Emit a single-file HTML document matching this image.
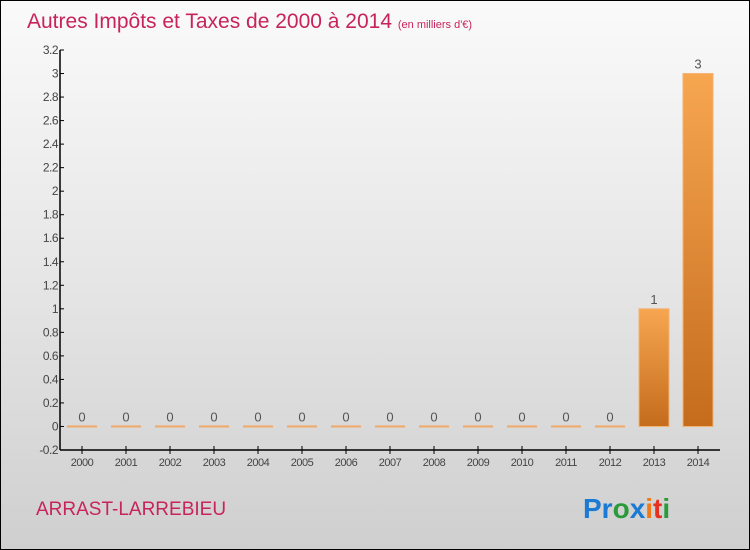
<!DOCTYPE html>
<html><head><meta charset="utf-8"><style>
body{margin:0}
#c{position:relative;width:748px;height:548px;border:1px solid #000;background:linear-gradient(#fafafa,#e6e6e6 50%,#cfcfcf);font-family:"Liberation Sans",sans-serif;overflow:hidden}
</style></head><body>
<div id="c">
<svg width="748" height="548">
<defs><linearGradient id="g" x1="0" y1="0" x2="0" y2="1"><stop offset="0" stop-color="#f7a650"/><stop offset="1" stop-color="#c46c1c"/></linearGradient></defs>
<text x="26" y="27" font-size="21" fill="#c8235a">Autres Impôts et Taxes de 2000 à 2014 <tspan font-size="11">(en milliers d'€)</tspan></text>
<g id="ax"></g>
<text x="35" y="514" font-size="19" fill="#c8235a">ARRAST-LARREBIEU</text>
<text x="582" y="517" font-size="28" font-weight="bold"><tspan fill="#1a7ad4">Pr</tspan><tspan fill="#2a9a3a">o</tspan><tspan fill="#1a7ad4">x</tspan><tspan fill="#f07818">i</tspan><tspan fill="#e83020">t</tspan><tspan fill="#2a9a3a">i</tspan></text>
</svg></div>
<script>
const categories=["2000","2001","2002","2003","2004","2005","2006","2007","2008","2009","2010","2011","2012","2013","2014"];
const values=[0,0,0,0,0,0,0,0,0,0,0,0,0,1,3];
const yTicks=[-0.2,0,0.2,0.4,0.6,0.8,1,1.2,1.4,1.6,1.8,2,2.2,2.4,2.6,2.8,3,3.2];
const ns="http://www.w3.org/2000/svg",g=document.getElementById("ax");
const y=v=>449-(v+0.2)/3.4*400, x=i=>81+i*44;
function mk(t,a,txt){const e=document.createElementNS(ns,t);for(const k in a)e.setAttribute(k,a[k]);if(txt!=null)e.textContent=txt;g.appendChild(e);return e;}
let e=mk("line",{x1:59,y1:49,x2:59,y2:449,stroke:"#000","stroke-width":1.5});


e=mk("line",{x1:59,y1:449,x2:719,y2:449,stroke:"#000","stroke-width":1.5});


yTicks.forEach(t=>{
 mk("line",{x1:59,x2:63,y1:y(t),y2:y(t),stroke:"#000"});
 e=mk("text",{x:57,y:y(t)+4,"font-size":12,"text-anchor":"end",fill:"#444","letter-spacing":"-0.5"},String(t));
 
 
});
categories.forEach((c,i)=>{
 mk("line",{x1:x(i),x2:x(i),y1:445,y2:453,stroke:"#000"});
 e=mk("text",{x:x(i),y:465,"font-size":11,"text-anchor":"middle",fill:"#444","letter-spacing":"-0.5"},c);
 
 
 const v=values[i],top=y(v),h=Math.max(y(0)-top,2);
 e=mk("rect",{x:x(i)-15,y:v>0?top:y(0)-1,width:30,height:h,fill:v>0?"url(#g)":"#f0a868",stroke:v>0?"#f5b070":"none"});
 
 
 e=mk("text",{x:x(i),y:top-5,"font-size":13,"text-anchor":"middle",fill:"#555"},String(v));
 
 
});
</script>
</body></html>
